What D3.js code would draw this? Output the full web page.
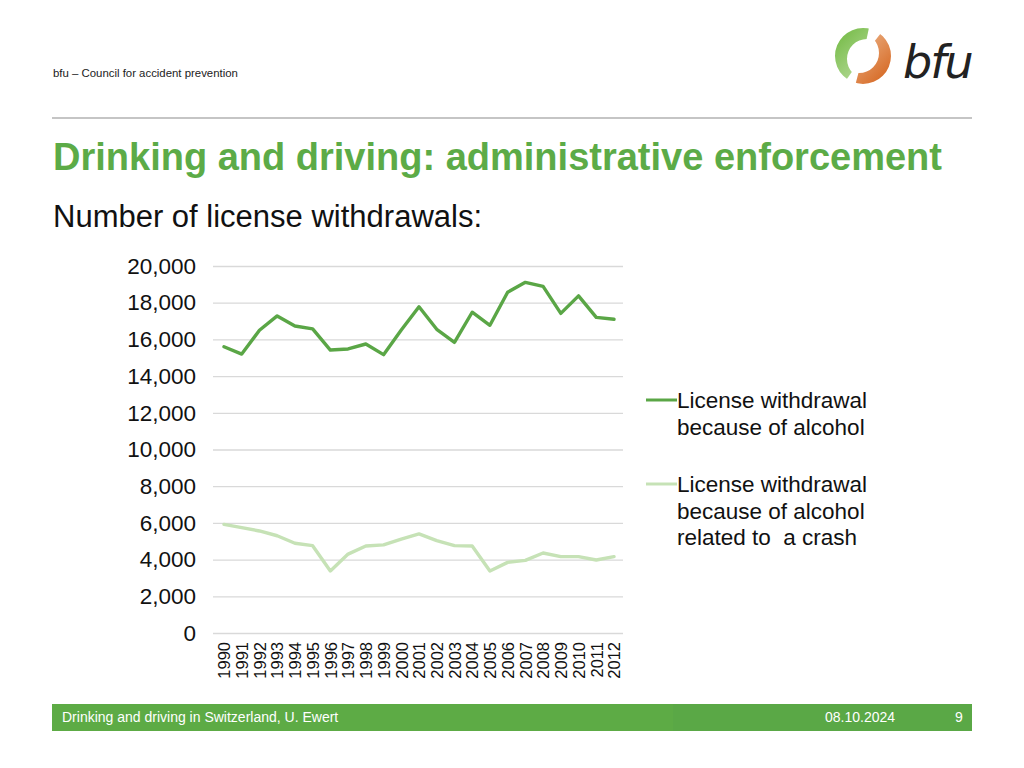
<!DOCTYPE html>
<html><head><meta charset="utf-8">
<script src="https://cdn.jsdelivr.net/npm/d3@7"></script>
<style>body{margin:0;background:#fff;}svg{display:block;font-family:"Liberation Sans",Arial,sans-serif;}</style>
</head><body>
<svg id="c" width="1024" height="768"></svg>
<script>
const years = ["1990","1991","1992","1993","1994","1995","1996","1997","1998","1999","2000","2001","2002","2003","2004","2005","2006","2007","2008","2009","2010","2011","2012"];
const alcohol = [15600,15200,16500,17280,16730,16570,15420,15480,15750,15170,16510,17780,16550,15840,17480,16770,18570,19110,18890,17420,18370,17200,17100];
const alcoholCrash = [5920,5740,5560,5300,4890,4760,3380,4300,4740,4800,5120,5400,5030,4760,4740,3380,3850,3960,4360,4160,4160,3980,4160];
const yTicks = [0,2000,4000,6000,8000,10000,12000,14000,16000,18000,20000];
const seriesNames = [["License withdrawal","because of alcohol"],["License withdrawal","because of alcohol","related to  a crash"]];
const colors = ["#5aa646","#c6e2b6"];

const svg = d3.select("#c");
const green = "#5cab47";

// header
svg.append("text").attr("x",53).attr("y",77).attr("font-size",11.4).attr("fill","#222").text("bfu – Council for accident prevention");
svg.append("line").attr("x1",52).attr("x2",972).attr("y1",118).attr("y2",118).attr("stroke","#8c8c8c").attr("stroke-width",1.2);

// logo
const defs = svg.append("defs");
const lg = defs.append("linearGradient").attr("id","gG").attr("x1","0").attr("y1","0").attr("x2","1").attr("y2","1");
lg.append("stop").attr("offset","0").attr("stop-color","#6fb83f");
lg.append("stop").attr("offset","1").attr("stop-color","#d4e9bf");
const og = defs.append("linearGradient").attr("id","oG").attr("x1","0").attr("y1","0").attr("x2","1").attr("y2","1");
og.append("stop").attr("offset","0").attr("stop-color","#f5d2b0");
og.append("stop").attr("offset","1").attr("stop-color","#d35f17");
function wedge(cx,cy,a0,a1,r){ // d3 angles (0 top, clockwise), degrees
  const p = d3.path(); p.moveTo(cx,cy);
  for(let a=a0;a<=a1;a+=5){const t=(a-90)*Math.PI/180;p.lineTo(cx+r*Math.cos(t),cy+r*Math.sin(t));}
  const t=(a1-90)*Math.PI/180;p.lineTo(cx+r*Math.cos(t),cy+r*Math.sin(t));p.closePath();return p.toString();
}
function crescent(cx,cy,R,ox,oy,r){
  const p=d3.path();
  p.moveTo(cx+R,cy);p.arc(cx,cy,R,0,2*Math.PI);
  p.moveTo(cx+ox+r,cy+oy);p.arc(cx+ox,cy+oy,r,0,2*Math.PI);
  return p.toString();
}
const LX=863, LY=56;
defs.append("clipPath").attr("id","cpG").append("path").attr("d",wedge(LX,LY,-145,12,40));
defs.append("clipPath").attr("id","cpO").append("path").attr("d",wedge(LX,LY,38,195,40));
svg.append("path").attr("d",crescent(LX,LY,28,4,3,20)).attr("fill-rule","evenodd").attr("fill","url(#gG)").attr("clip-path","url(#cpG)");
svg.append("path").attr("d",crescent(LX,LY,28,-4,-3,20)).attr("fill-rule","evenodd").attr("fill","url(#oG)").attr("clip-path","url(#cpO)");
svg.append("text").attr("x",903).attr("y",78).attr("font-size",46).attr("font-family","'DejaVu Sans',sans-serif").attr("font-style","italic").attr("fill","#222").attr("letter-spacing",-2).text("bfu");

// title
svg.append("text").attr("x",53).attr("y",170).attr("font-size",38).attr("font-weight","bold").attr("fill",green).text("Drinking and driving: administrative enforcement");
svg.append("text").attr("x",53).attr("y",227).attr("font-size",31).attr("fill","#111").text("Number of license withdrawals:");

// chart
const x = d3.scalePoint().domain(years).range([224,614]);
const y = d3.scaleLinear().domain([0,20000]).range([633,266]);
const gy = svg.append("g").attr("transform","translate(213,0)")
  .call(d3.axisLeft(y).tickValues(yTicks).tickSize(-410).tickFormat(d3.format(",")));
gy.select(".domain").remove();
gy.selectAll(".tick line").attr("stroke","#d9d9d9").attr("stroke-width",1.3);
gy.selectAll(".tick text").attr("x",-17).attr("font-size",22.5).attr("fill","#111").attr("font-family","'Liberation Sans',Arial,sans-serif");

const gx = svg.append("g").attr("transform","translate(0,633)").call(d3.axisBottom(x).tickSize(0));
gx.select(".domain").remove();
gx.selectAll(".tick text").attr("transform","rotate(-90)").attr("text-anchor","end").attr("x",-9).attr("y",0).attr("dy","0.35em")
  .attr("font-size",16.5).attr("fill","#111").attr("font-family","'Liberation Sans',Arial,sans-serif");

const line = d3.line().x((d,i)=>x(years[i])).y(d=>y(d));
[alcoholCrash, alcohol].forEach((s,k)=>{
  const c = k===0?colors[1]:colors[0];
  svg.append("path").attr("d",line(s)).attr("fill","none").attr("stroke",c).attr("stroke-width",3.4).attr("stroke-linejoin","round").attr("stroke-linecap","round");
});

// legend
const legY = [400,484];
seriesNames.forEach((lines,k)=>{
  svg.append("line").attr("x1",646).attr("x2",677).attr("y1",legY[k]).attr("y2",legY[k]).attr("stroke",colors[k]).attr("stroke-width",3);
  lines.forEach((t,j)=>{
    svg.append("text").attr("x",677).attr("y",legY[k]+8+j*26.5).attr("font-size",22.5).attr("fill","#111").attr("xml:space","preserve").text(t);
  });
});

// footer
svg.append("rect").attr("x",52).attr("y",704).attr("width",920).attr("height",27).attr("fill","#5dab45");
svg.append("rect").attr("x",673).attr("y",704).attr("width",299).attr("height",27).attr("fill","#5aa846");
svg.append("text").attr("x",62).attr("y",722).attr("font-size",14).attr("fill","#fff").text("Drinking and driving in Switzerland, U. Ewert");
svg.append("text").attr("x",825).attr("y",722).attr("font-size",14).attr("fill","#fff").text("08.10.2024");
svg.append("text").attr("x",955).attr("y",722).attr("font-size",14).attr("fill","#fff").text("9");
</script>
</body></html>
